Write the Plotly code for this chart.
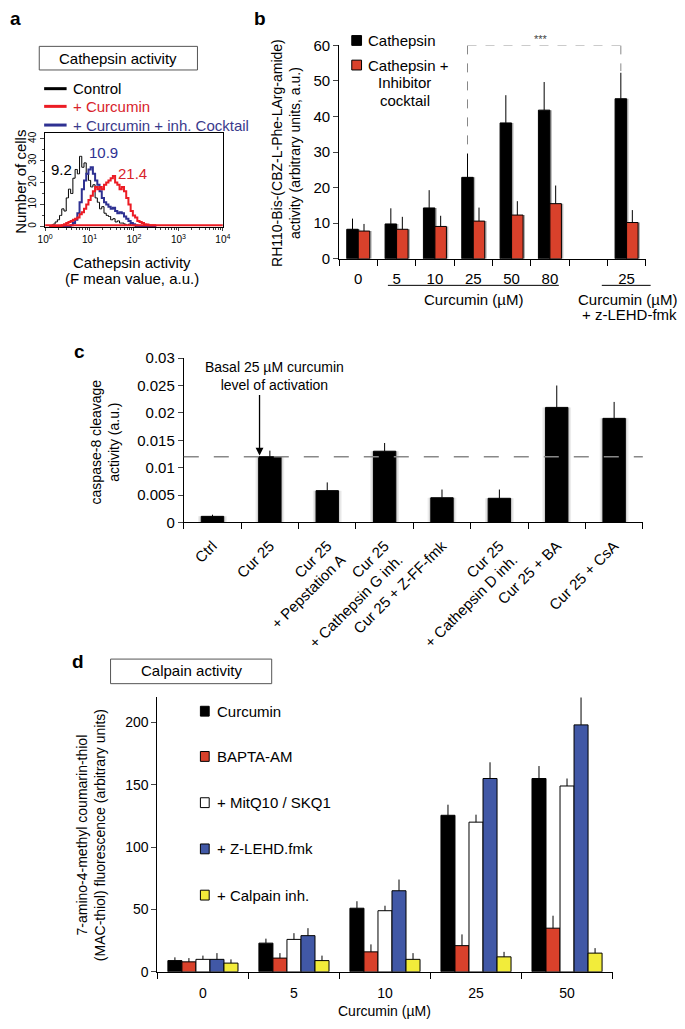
import plotly.graph_objects as go

W, H = 685, 1029


def px(x):
    return x / W


def py(y):
    return 1 - y / H


FONT = "Liberation Sans, Arial, Helvetica, sans-serif"

# ---------------- Panel a : flow-cytometry histograms ----------------
hist_log10_centers = [0.10, 0.15, 0.20, 0.25, 0.30, 0.35, 0.40, 0.45, 0.50, 0.55,
                      0.60, 0.65, 0.70, 0.75, 0.80, 0.85, 0.90, 0.95, 1.00, 1.05,
                      1.10, 1.15, 1.20, 1.25, 1.30, 1.35, 1.40, 1.45, 1.50, 1.55,
                      1.60, 1.65, 1.70, 1.75, 1.80, 1.85, 1.90, 1.95, 2.00, 2.05,
                      2.10, 2.15, 2.20, 2.25, 2.30, 2.35, 2.40, 2.45, 2.50]
hist_control = [0, 0.5, 1, 2, 3, 5, 8, 7, 13, 17,
                15, 22, 26, 24, 32, 27, 29, 24, 21, 18,
                19, 13, 11, 8, 9, 6, 5, 4.5, 3, 3.5,
                2, 2.5, 1.5, 1.5, 1, 0.5, 1, 0.5, 0.3, 0,
                0, 0, 0, 0, 0, 0, 0, 0, 0]
hist_curcumin_inh = [0, 0, 0, 0, 0, 0, 0, 0, 0, 0,
                     0.5, 1.5, 3, 6, 11, 17, 21, 24, 26, 27,
                     24, 21, 19, 16, 13, 11, 10, 9, 8, 8.5,
                     7, 6, 6.5, 6, 4.5, 3.5, 2.5, 1.5, 1, 0.5,
                     0.3, 0, 0, 0, 0, 0, 0, 0, 0]
hist_curcumin = [0, 0, 0, 0, 0, 0, 0.5, 1, 1.5, 2,
                 2.5, 3, 3.5, 4, 5.5, 6.5, 8, 10, 12, 14,
                 16, 18, 17, 18, 17, 19, 20, 21, 22, 23,
                 20, 19, 17, 18, 16, 13, 10, 7, 5, 4,
                 2.5, 2, 1.5, 1, 0.8, 0.5, 0.5, 0.5, 0.5]
curcumin_baseline = 0.5
hist_x_range_values = [1, 10000]
mean_control = "9.2"
mean_curcumin_inh = "10.9"
mean_curcumin = "21.4"
a_x_tickvals = [1, 10, 100, 1000, 10000]
a_x_ticktext = ["10<sup>0</sup>", "10<sup>1</sup>", "10<sup>2</sup>", "10<sup>3</sup>", "10<sup>4</sup>"]
a_y_tickvals = [0, 10, 20, 30, 40]

# ---------------- Panel b : cathepsin activity ----------------
b_doses = ["0", "5", "10", "25", "50", "80", "", "25"]
b_cathepsin = [8.3, 9.8, 14.3, 22.9, 38.2, 41.8, None, 45.0]
b_cathepsin_err = [3.0, 4.4, 5.0, 6.7, 7.8, 7.9, None, 7.3]
b_cocktail = [7.8, 8.3, 9.1, 10.6, 12.3, 15.5, None, 10.2]
b_cocktail_err = [2.0, 3.5, 3.0, 3.8, 3.9, 5.1, None, 3.5]
b_y_tickvals = [0, 10, 20, 30, 40, 50, 60]

# ---------------- Panel c : caspase-8 cleavage ----------------
c_labels = ["Ctrl", "Cur 25", "Cur 25<br>+ Pepstation A", "Cur 25<br>+ Cathepsin G inh.",
            "Cur 25 + Z-FF-fmk", "Cur 25<br>+ Cathepsin D inh.", "Cur 25 + BA", "Cur 25 + CsA"]
c_values = [0.0011, 0.0120, 0.0058, 0.0130, 0.0045, 0.0044, 0.0210, 0.0190]
c_err = [0.0003, 0.0011, 0.0015, 0.0015, 0.0015, 0.0016, 0.0040, 0.0030]
c_basal = 0.012
c_y_tickvals = [0, 0.005, 0.01, 0.015, 0.02, 0.025, 0.03]
c_y_ticktext = ["0", "0.005", "0.01", "0.015", "0.02", "0.025", "0.03"]

# ---------------- Panel d : calpain activity ----------------
d_doses = ["0", "5", "10", "25", "50"]
d_curcumin = [9, 23, 51, 125.5, 155]
d_curcumin_err = [2.6, 3.6, 5.6, 8.5, 10]
d_bapta = [8, 11, 16, 21, 35]
d_bapta_err = [3, 4, 6, 9, 10]
d_mitq = [10, 26, 49, 120, 149]
d_mitq_err = [3, 5, 4, 6, 6]
d_zlehd = [10, 29, 65, 155, 198]
d_zlehd_err = [5, 6, 9, 13, 25]
d_calpinh = [7, 9, 10, 12, 15]
d_calpinh_err = [3, 4, 5, 4, 4]
d_names = ["Curcumin", "BAPTA-AM", "+ MitQ10 / SKQ1", "+ Z-LEHD.fmk", "+ Calpain inh."]
d_y_tickvals = [0, 50, 100, 150, 200]

RED_A = "#ec1c24"
BLUE_A = "#2e3192"
RED_B = "#d9412b"
BLUE_D = "#4158a6"
YELLOW_D = "#f2ec3a"

fig = go.Figure()

# ---- a traces
hist_x = [10 ** v for v in hist_log10_centers]
fig.add_trace(go.Scatter(x=hist_x, y=hist_control, mode="lines", line=dict(color="black", width=1, shape="hvh"),
                         xaxis="x", yaxis="y"))
fig.add_trace(go.Scatter(x=hist_x, y=hist_curcumin_inh, mode="lines", line=dict(color=BLUE_A, width=2, shape="hvh"),
                         xaxis="x", yaxis="y"))
fig.add_trace(go.Scatter(x=hist_x_range_values, y=[curcumin_baseline] * 2, mode="lines",
                         line=dict(color=RED_A, width=2), xaxis="x", yaxis="y"))
fig.add_trace(go.Scatter(x=hist_x, y=hist_curcumin, mode="lines", line=dict(color=RED_A, width=2, shape="hvh"),
                         xaxis="x", yaxis="y"))


def up_err(arr):
    return dict(type="data", symmetric=False, array=[0 if v is None else v for v in arr],
                arrayminus=[0] * len(arr), color="black", thickness=1, width=0)


# ---- b traces (soft shadows first, then bars)
b_x = list(range(len(b_doses)))
for vals, off in [(b_cathepsin, -0.3), (b_cocktail, 0.0)]:
    fig.add_trace(go.Bar(x=b_x, y=vals, width=0.3, offset=off + 0.05, marker=dict(color="#b5b5b5", line=dict(width=0)),
                         xaxis="x2", yaxis="y2", hoverinfo="skip"))
fig.add_trace(go.Bar(x=b_x, y=b_cathepsin, width=0.3, offset=-0.3, marker=dict(color="black", line=dict(color="black", width=1)),
                     error_y=up_err(b_cathepsin_err), xaxis="x2", yaxis="y2"))
fig.add_trace(go.Bar(x=b_x, y=b_cocktail, width=0.3, offset=0.0, marker=dict(color=RED_B, line=dict(color="black", width=1)),
                     error_y=up_err(b_cocktail_err), xaxis="x2", yaxis="y2"))

# ---- c traces (gray glow, then bars)
c_x = list(range(len(c_labels)))
fig.add_trace(go.Bar(x=c_x, y=c_values, width=0.50, marker=dict(color="#ececec", line=dict(width=0)),
                     xaxis="x3", yaxis="y3", hoverinfo="skip"))
fig.add_trace(go.Bar(x=c_x, y=c_values, width=0.45, marker=dict(color="#d2d2d2", line=dict(width=0)),
                     xaxis="x3", yaxis="y3", hoverinfo="skip"))
fig.add_trace(go.Bar(x=c_x, y=c_values, width=0.39, marker=dict(color="black", line=dict(color="black", width=1)),
                     error_y=up_err(c_err), xaxis="x3", yaxis="y3"))

# ---- d traces
d_x = list(range(len(d_doses)))
d_series = [(d_curcumin, d_curcumin_err, "black"), (d_bapta, d_bapta_err, RED_B), (d_mitq, d_mitq_err, "white"),
            (d_zlehd, d_zlehd_err, BLUE_D), (d_calpinh, d_calpinh_err, YELLOW_D)]
bw = 0.154
for k, (vals, errs, col) in enumerate(d_series):
    fig.add_trace(go.Bar(x=d_x, y=vals, width=bw, offset=-2.5 * bw + k * bw,
                         marker=dict(color=col, line=dict(color="black", width=1)),
                         error_y=up_err(errs), xaxis="x4", yaxis="y4"))

axis_common = dict(showline=True, linecolor="black", linewidth=1, showgrid=False, zeroline=False)

layout = dict(
    width=W, height=H, margin=dict(l=0, r=0, t=0, b=0), paper_bgcolor="white", plot_bgcolor="white",
    showlegend=False, barmode="overlay", font=dict(family=FONT, color="black", size=14),
    # a
    xaxis=dict(axis_common, domain=[px(38), px(220)], anchor="y", type="log", range=[0, 4], mirror=True,
               tickvals=a_x_tickvals, ticktext=a_x_ticktext, ticks="outside", ticklen=3,
               tickfont=dict(size=10), minor=dict(ticks="outside", ticklen=2,
               tickvals=[m * d for d in [1, 10, 100, 1000] for m in range(2, 10)])),
    yaxis=dict(axis_common, domain=[py(222), py(126)], anchor="x", range=[-0.45, 42.7], mirror=True,
               tickvals=a_y_tickvals, ticks="outside", ticklen=4, tickangle=-90, tickfont=dict(size=10),
               minor=dict(ticks="outside", ticklen=2, dtick=5)),
    # b
    xaxis2=dict(axis_common, domain=[px(339), px(653)], anchor="y2", range=[-0.5, 7.5],
                tickvals=b_x, ticktext=b_doses, ticks="", tickfont=dict(size=15), ticklabelstandoff=6,
                minor=dict(ticks="outside", ticklen=6, tickcolor="black",
                           tickvals=[i - 0.5 for i in range(len(b_doses) + 1)])),
    yaxis2=dict(axis_common, domain=[py(254), py(37)], anchor="x2", range=[0, 60],
                tickvals=b_y_tickvals, ticks="outside", ticklen=5, tickfont=dict(size=15)),
    # c
    xaxis3=dict(axis_common, domain=[px(180), px(650)], anchor="y3", range=[-0.5, 7.5],
                tickvals=c_x, ticktext=c_labels, ticks="", tickangle=-45, tickfont=dict(size=15),
                ticklabelstandoff=8,
                minor=dict(ticks="outside", ticklen=6, tickcolor="black",
                           tickvals=[i - 0.5 for i in range(len(c_labels) + 1)])),
    yaxis3=dict(axis_common, domain=[py(522), py(355)], anchor="x3", range=[0, 0.03],
                tickvals=c_y_tickvals, ticktext=c_y_ticktext, ticks="outside", ticklen=5,
                tickfont=dict(size=15)),
    # d
    xaxis4=dict(axis_common, domain=[px(153), px(619)], anchor="y4", range=[-0.5, 4.5],
                tickvals=d_x, ticktext=d_doses, ticks="", tickfont=dict(size=14), ticklabelstandoff=8,
                minor=dict(ticks="outside", ticklen=6, tickcolor="black",
                           tickvals=[i - 0.5 for i in range(len(d_doses) + 1)])),
    yaxis4=dict(axis_common, domain=[py(979), py(700)], anchor="x4", range=[0, 220],
                tickvals=d_y_tickvals, ticks="outside", ticklen=5, tickfont=dict(size=14)),
)
fig.update_layout(**layout)

ann = []
shapes = []


def text(x, y, s, size=14, color="black", xanchor="center", bold=False, angle=0):
    ann.append(dict(x=px(x), y=py(y), xref="paper", yref="paper", text=("<b>%s</b>" % s) if bold else s,
                    showarrow=False, xanchor=xanchor, yanchor="middle", textangle=angle,
                    font=dict(size=size, color=color, family=FONT)))


def hline(x0, x1, y, color="black", width=1, dash=None):
    shapes.append(dict(type="line", xref="paper", yref="paper", x0=px(x0), x1=px(x1), y0=py(y), y1=py(y),
                       line=dict(color=color, width=width, dash=dash)))


def rect(x0, y0, x1, y1, fill="white", line="black", width=1):
    shapes.append(dict(type="rect", xref="paper", yref="paper", x0=px(x0), x1=px(x1), y0=py(y0), y1=py(y1),
                       fillcolor=fill, line=dict(color=line, width=width)))


# ---- a annotations
text(8, 10, "a", size=19, bold=True)
rect(32, 38, 194, 62, line="#555555")
text(113, 50, "Cathepsin activity", size=15)
for yy, col, lab in [(81, "black", "Control"), (99, RED_A, "+ Curcumin"),
                     (118, BLUE_A, "+ Curcumin + inh. Cocktail")]:
    hline(37, 60, yy, color=col, width=3)
    text(65, yy, lab, size=15, color=("#3a3a8c" if col == BLUE_A else ("#d8232a" if col == RED_A else "black")),
         xanchor="left")
text(55, 163, mean_control, size=15)
text(98, 146, mean_curcumin_inh, size=15, color=BLUE_A)
text(127, 167, mean_curcumin, size=15, color="#d8232a")
text(12, 176, "Number of cells", size=15, angle=-90)
text(127, 258, "Cathepsin activity", size=15)
text(127, 274, "(F mean value, a.u.)", size=15)

# ---- b annotations
text(258, 10, "b", size=19, bold=True)
text(284, 146, "RH110-Bis-(CBZ-L-Phe-LArg-amide)<br>activity (arbitrary units, a.u.)", size=14, angle=-90)
rect(352, 27, 362, 37, fill="black")
text(367, 32, "Cathepsin", size=15, xanchor="left")
rect(352, 52, 362, 62, fill=RED_B)
text(367, 57, "Cathepsin +", size=15, xanchor="left")
text(406, 75, "Inhibitor", size=15)
text(407, 93, "cocktail", size=15)
# significance bracket between 25 uM and 25 uM + z-LEHD-fmk (black bars)
i_left, i_right = 3, 7
for xi, top in [(i_left, b_cathepsin[i_left] + b_cathepsin_err[i_left]),
                (i_right, b_cathepsin[i_right] + b_cathepsin_err[i_right])]:
    shapes.append(dict(type="line", xref="x2", yref="y2", x0=xi - 0.15, x1=xi - 0.15, y0=60, y1=top + 0.5,
                       line=dict(color="#888888", width=1, dash="dash")))
shapes.append(dict(type="line", xref="x2", yref="y2", x0=i_left - 0.15, x1=i_right - 0.15, y0=60, y1=60,
                   line=dict(color="#888888", width=1, dash="dash")))
text(546, 30, "***", size=11, color="#444444")
hline(389, 564, 281)
text(477, 295, "Curcumin (µM)", size=15)
hline(608, 658, 281)
text(634, 295, "Curcumin (µM)", size=15)
text(586, 311, "+ z-LEHD-fmk", size=15, xanchor="left")

# ---- c annotations
text(73, 348, "c", size=19, bold=True)
text(99, 440, "caspase-8 cleavage<br>activity (a.u.)", size=14, angle=-90)
shapes.append(dict(type="line", xref="x3 domain", yref="y3", x0=0, x1=1, y0=c_basal, y1=c_basal,
                   line=dict(color="#888888", width=1.5, dash="longdash")))
text(273, 373, "Basal 25 µM curcumin<br>level of activation", size=14)
ann.append(dict(x=1 - 0.18, y=c_basal + 0.0002, xref="x3", yref="y3", text="", showarrow=True,
                axref="pixel", ayref="pixel", ax=0, ay=-62, arrowhead=2, arrowsize=1.2, arrowwidth=1.3,
                arrowcolor="black"))

# ---- d annotations
text(72, 663, "d", size=19, bold=True)
rect(105, 661, 270, 686, line="#555555")
text(188, 673, "Calpain activity", size=15)
for yy, (vals, errs, col), name in zip([714, 760, 807, 854, 901], d_series, d_names):
    rect(197, yy - 5, 206, yy + 5, fill=col)
    text(212, yy, name, size=15, xanchor="left")
text(85, 840, "7-amino-4-methyl coumarin-thiol<br>(MAC-thiol) fluorescence (arbitrary units)", size=14, angle=-90)
text(386, 1019, "Curcumin (µM)", size=14)

fig.update_layout(annotations=ann, shapes=shapes)
fig.write_html("out.html", config={"displayModeBar": False},
               post_script="document.body.style.margin='0';document.body.style.overflow='hidden';")
